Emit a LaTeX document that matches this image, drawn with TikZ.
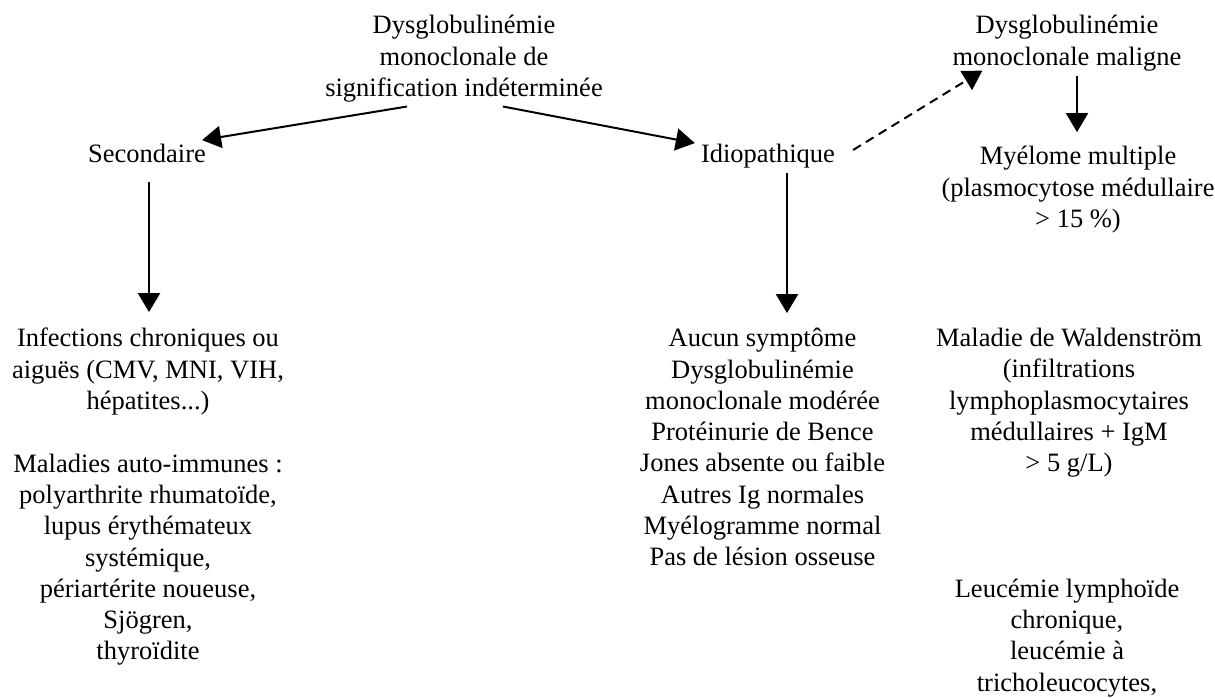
\documentclass[tikz,border=0pt]{standalone}
\usepackage{fontspec}
\setmainfont{Liberation Serif}
\usetikzlibrary{arrows.meta}
\tikzset{
  txt/.style={font=\fontsize{26.5}{31.3}\selectfont, align=center, inner sep=0pt, anchor=north,
    execute at begin node=\strut, execute at end node=\strut},
  arr/.style={-{Triangle[width=22pt,length=19pt]}, line width=2pt},
  darr/.style={arr, dash pattern=on 9pt off 6pt}
}
\begin{document}
\begin{tikzpicture}[x=1pt,y=-1pt]
\useasboundingbox (0,0) rectangle (1215,697);
\fill[white] (0,0) rectangle (1215,697);
% nodes (north = first baseline - 21.91)
\node[txt] (top) at (464,15.1) {Dysglobulinémie\\monoclonale de\\signification indéterminée};
\node[txt] (mal) at (1067,15.1) {Dysglobulinémie\\monoclonale maligne};
\node[txt] (sec) at (147,140.1) {Secondaire};
\node[txt] (idio) at (768,140.1) {Idiopathique};
\node[txt] (mye) at (1078,146.1) {Myélome multiple\\(plasmocytose médullaire\\> 15 \%)};
\node[txt] (inf) at (148,328.1) {Infections chroniques ou\\aiguës (CMV, MNI, VIH,\\hépatites...)\\\strut\\Maladies auto-immunes :\\polyarthrite rhumatoïde,\\lupus érythémateux\\systémique,\\périartérite noueuse,\\Sjögren,\\thyroïdite};
\node[txt] (auc) at (762.5,328.1) {Aucun symptôme\\Dysglobulinémie\\monoclonale modérée\\Protéinurie de Bence\\Jones absente ou faible\\Autres Ig normales\\Myélogramme normal\\Pas de lésion osseuse};
\node[txt] (wal) at (1069,328.1) {Maladie de Waldenström\\(infiltrations\\lymphoplasmocytaires\\médullaires + IgM\\> 5 g/L)};
\node[txt] (leu) at (1067,578.5) {Leucémie lymphoïde\\chronique,\\leucémie à\\tricholeucocytes,};
% connectors
\draw[arr] ([xshift=-57pt,yshift=-0.6pt]top.south) -- ([xshift=-4pt]sec.north east);
\draw[arr] ([xshift=39pt,yshift=-0.6pt]top.south) -- ([xshift=-6pt,yshift=-3pt]idio.north west);
\draw[darr] ([xshift=18pt,yshift=6pt]idio.east) -- ([xshift=30pt,yshift=4pt]mal.south west);
\draw[arr] ([xshift=10pt,yshift=-1.3pt]mal.south) -- ([xshift=-1pt,yshift=14pt]mye.north);
\draw[arr] ([xshift=2pt,yshift=-10.6pt]sec.south) -- ([xshift=1pt,yshift=16pt]inf.north);
\draw[arr] ([xshift=19pt,yshift=-1.6pt]idio.south) -- ([xshift=24.5pt,yshift=15pt]auc.north);
\end{tikzpicture}
\end{document}
